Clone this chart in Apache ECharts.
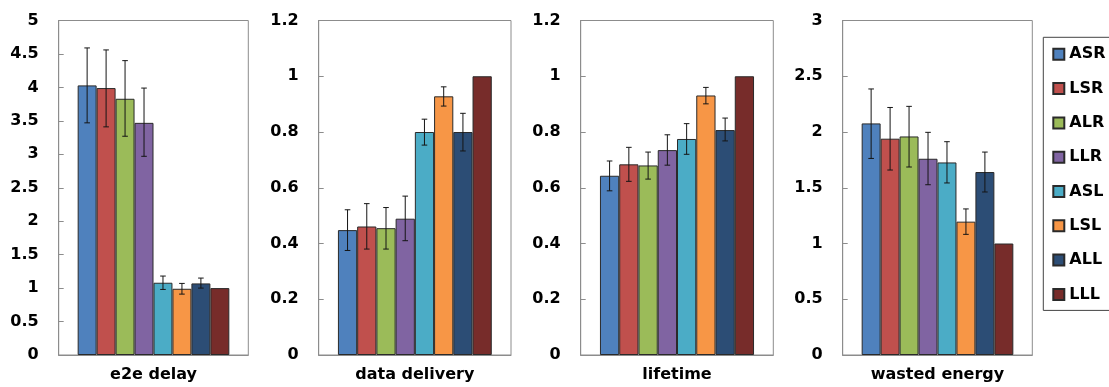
<!DOCTYPE html>
<html><head><meta charset="utf-8">
<script src="https://cdn.jsdelivr.net/npm/echarts@6/dist/echarts.min.js"></script>
<style>html,body{margin:0;padding:0;background:#fff}#c{width:1109px;height:387px}</style>
</head><body><div id="c"></div>
<script>
const categories = ['e2e delay', 'data delivery', 'lifetime', 'wasted energy'];
const methods = ['ASR', 'LSR', 'ALR', 'LLR', 'ASL', 'LSL', 'ALL', 'LLL'];
const colors = ['#4F81BD', '#C0504D', '#9BBB59', '#8064A2', '#4BACC6', '#F79646', '#2C4D75', '#772C2A'];
const yMax = [5, 1.2, 1.2, 3];
const yStep = [0.5, 0.2, 0.2, 0.5];

const e2eDelay     = [4.03, 3.99, 3.83, 3.47, 1.08, 0.99, 1.07, 1.00];
const e2eDelayLow  = [3.47, 3.41, 3.27, 2.97, 0.98, 0.91, 1.00, 1.00];
const e2eDelayHigh = [4.59, 4.56, 4.40, 3.99, 1.18, 1.07, 1.15, 1.00];

const dataDelivery     = [0.448, 0.461, 0.455, 0.489, 0.800, 0.928, 0.800, 1.00];
const dataDeliveryLow  = [0.375, 0.380, 0.380, 0.410, 0.753, 0.893, 0.732, 1.00];
const dataDeliveryHigh = [0.521, 0.543, 0.529, 0.570, 0.846, 0.962, 0.867, 1.00];

const lifetime     = [0.643, 0.684, 0.680, 0.735, 0.775, 0.931, 0.807, 1.00];
const lifetimeLow  = [0.589, 0.623, 0.631, 0.681, 0.720, 0.901, 0.768, 1.00];
const lifetimeHigh = [0.696, 0.745, 0.728, 0.790, 0.830, 0.960, 0.850, 1.00];

const wastedEnergy     = [2.077, 1.940, 1.960, 1.760, 1.727, 1.196, 1.641, 1.00];
const wastedEnergyLow  = [1.763, 1.659, 1.686, 1.527, 1.543, 1.082, 1.462, 1.00];
const wastedEnergyHigh = [2.386, 2.220, 2.230, 1.997, 1.913, 1.310, 1.820, 1.00];

const values = [e2eDelay, dataDelivery, lifetime, wastedEnergy];
const lows = [e2eDelayLow, dataDeliveryLow, lifetimeLow, wastedEnergyLow];
const highs = [e2eDelayHigh, dataDeliveryHigh, lifetimeHigh, wastedEnergyHigh];

const FONT = 'DejaVu Sans';
const gridLefts = [58.7, 318.7, 580.7, 842.7];
const gridWidths = [189.6, 192.3, 192.6, 189.6];

const grids = [], xAxes = [], yAxes = [], series = [];
for (let p = 0; p < 4; p++) {
  grids.push({left: gridLefts[p], top: 20.5, width: gridWidths[p], height: 334.5,
    show: true, borderColor: '#8c8c8c', borderWidth: 1, containLabel: false});
  xAxes.push({type: 'category', gridIndex: p, data: [categories[p]],
    axisTick: {show: false}, axisLine: {lineStyle: {color: '#8c8c8c'}},
    axisLabel: {fontFamily: FONT, fontWeight: 'bold', fontSize: 16, color: '#000', margin: 12}});
  yAxes.push({type: 'value', gridIndex: p, min: 0, max: yMax[p], interval: yStep[p],
    splitLine: {show: false},
    axisLine: {show: true, lineStyle: {color: '#8c8c8c'}},
    axisTick: {show: true, inside: true, length: 5, lineStyle: {color: '#8c8c8c'}},
    axisLabel: {fontFamily: FONT, fontWeight: 'bold', fontSize: 16, color: '#000', margin: 20}});
  methods.forEach((m, i) => {
    series.push({type: 'bar', name: m, xAxisIndex: p, yAxisIndex: p,
      data: [values[p][i]], barGap: 0, barCategoryGap: '20%',
      itemStyle: {color: colors[i], borderColor: '#2a2a2a', borderWidth: 1},
      emphasis: {disabled: true}, animation: false});
  });
  const errData = [];
  methods.forEach((m, i) => {
    if (highs[p][i] !== lows[p][i]) errData.push([0, lows[p][i], highs[p][i], i]);
  });
  series.push({type: 'custom', name: 'err', xAxisIndex: p, yAxisIndex: p, z: 10,
    animation: false, silent: true,
    encode: {x: 0, y: [1, 2]},
    data: errData,
    renderItem: function (params, api) {
      const idx = api.value(3);
      const lo = api.coord([api.value(0), api.value(1)]);
      const hi = api.coord([api.value(0), api.value(2)]);
      const band = api.size([1, 0])[0];
      const bw = band * 0.8 / methods.length;
      const x = lo[0] + (idx - (methods.length - 1) / 2) * bw;
      const cap = 2.8;
      const st = {stroke: '#151515', lineWidth: 1};
      return {type: 'group', children: [
        {type: 'line', shape: {x1: x, y1: lo[1], x2: x, y2: hi[1]}, style: st},
        {type: 'line', shape: {x1: x - cap, y1: lo[1], x2: x + cap, y2: lo[1]}, style: st},
        {type: 'line', shape: {x1: x - cap, y1: hi[1], x2: x + cap, y2: hi[1]}, style: st}
      ]};
    }
  });
}

const chart = echarts.init(document.getElementById('c'), null, {renderer: 'canvas'});
chart.setOption({
  animation: false,
  backgroundColor: '#fff',
  grid: grids, xAxis: xAxes, yAxis: yAxes, series: series,
  legend: {
    data: methods, orient: 'vertical', left: 1043.3, top: 37.3,
    padding: [9, 12, 8, 9], itemGap: 18.3, itemWidth: 11, itemHeight: 11,
    icon: 'rect', borderColor: '#444', borderWidth: 1,
    textStyle: {fontFamily: FONT, fontWeight: 'bold', fontSize: 16, color: '#000', lineHeight: 16},
    selectedMode: false
  }
});
</script></body></html>
